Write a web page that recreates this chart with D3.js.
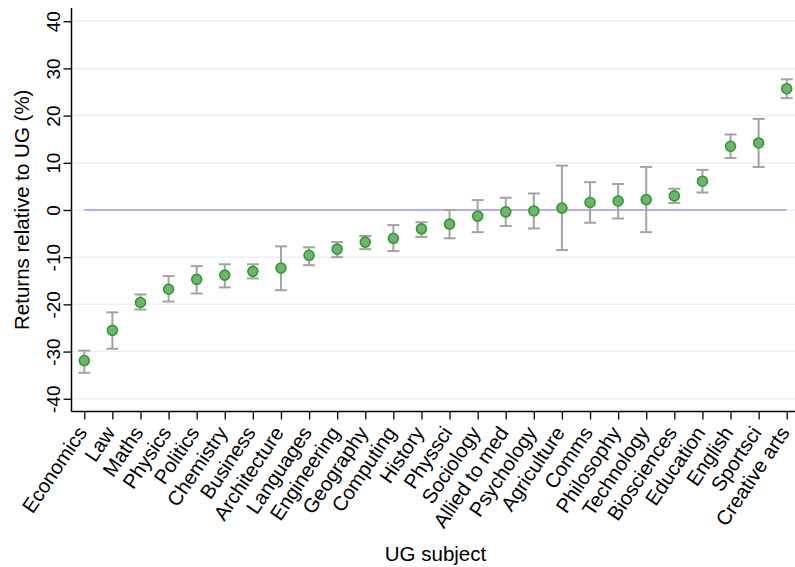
<!DOCTYPE html>
<html>
<head>
<meta charset="utf-8">
<script src="https://cdn.jsdelivr.net/npm/d3@7"></script>
<style>
  body { margin: 0; background: #fff; }
  text { font-family: "Liberation Sans", Arial, sans-serif; fill: #000; }
</style>
</head>
<body>
<div id="chart"></div>
<script>
// Chart data
var subjects = ["Economics", "Law", "Maths", "Physics", "Politics", "Chemistry", "Business",
    "Architecture", "Languages", "Engineering", "Geography", "Computing", "History", "Physsci",
    "Sociology", "Allied to med", "Psychology", "Agriculture", "Comms", "Philosophy",
    "Technology", "Biosciences", "Education", "English", "Sportsci", "Creative arts"];
var estimates = [-31.9, -25.5, -19.6, -16.8, -14.7, -13.8, -13.0, -12.3, -9.6, -8.3, -6.8, -6.0,
    -4.0, -3.0, -1.3, -0.4, -0.2, 0.4, 1.6, 1.9, 2.2, 3.0, 6.1, 13.5, 14.2, 25.7];
var lower = [-34.5, -29.4, -21.1, -19.4, -17.7, -16.4, -14.5, -17.0, -11.7, -10.0, -8.3, -8.7,
    -5.7, -6.0, -4.7, -3.4, -3.9, -8.5, -2.7, -1.8, -4.7, 1.5, 3.7, 11.0, 9.1, 23.7];
var upper = [-29.8, -21.7, -17.9, -14.0, -11.9, -11.5, -11.5, -7.7, -7.9, -6.8, -5.5, -3.2,
    -2.6, 0.0, 2.1, 2.6, 3.5, 9.4, 5.9, 5.5, 9.1, 4.5, 8.5, 16.0, 19.3, 27.7];
var yTicks = [-40, -30, -20, -10, 0, 10, 20, 30, 40];

// Dimensions (plot region edges)
var width = 795;
var height = 567;
var plotLeft = 71.5, plotRight = 799.5, plotTop = 8, plotBottom = 411.5;

var svg = d3.select("#chart")
    .append("svg")
    .attr("width", width)
    .attr("height", height);

// Scales
var x = d3.scalePoint()
    .domain(subjects)
    .range([plotLeft, plotRight])
    .padding(0.455);

var y = d3.scaleLinear()
    .domain([-42.7, 42.8])
    .range([plotBottom, plotTop]);

// Gridlines
svg.selectAll(".grid")
    .data(yTicks)
    .enter()
    .append("line")
    .attr("x1", plotLeft)
    .attr("x2", width)
    .attr("y1", function(d) { return y(d); })
    .attr("y2", function(d) { return y(d); })
    .attr("stroke", "#e9f0f3")
    .attr("stroke-width", 1.5);

// Zero reference line
svg.append("line")
    .attr("x1", x(subjects[0]))
    .attr("x2", x(subjects[subjects.length - 1]))
    .attr("y1", y(0))
    .attr("y2", y(0))
    .attr("stroke", "#b0b0f8")
    .attr("stroke-width", 2.2);

// Y axis (plain hyphen for negatives, as in the original)
var yAxis = svg.append("g")
    .attr("transform", "translate(" + plotLeft + ",0)")
    .call(d3.axisLeft(y).tickValues(yTicks).tickSize(8)
        .tickFormat(function(d) { return String(d); }));
yAxis.select(".domain").attr("d", "M0," + plotTop + "V" + plotBottom).attr("stroke", "#000").attr("stroke-width", 1.5);
yAxis.selectAll(".tick line").attr("stroke", "#000").attr("stroke-width", 1.3);
yAxis.selectAll(".tick text")
    .attr("font-size", 19)
    .attr("text-anchor", "middle")
    .attr("x", 0)
    .attr("y", 0)
    .attr("dy", 0)
    .attr("transform", "translate(-12,0) rotate(-90)");

// X axis
var xAxis = svg.append("g")
    .attr("transform", "translate(0," + plotBottom + ")")
    .call(d3.axisBottom(x).tickSize(8).tickSizeOuter(0));
xAxis.select(".domain").attr("d", "M" + plotLeft + ",0H" + plotRight).attr("stroke", "#000").attr("stroke-width", 1.5);
xAxis.selectAll(".tick line").attr("stroke", "#000").attr("stroke-width", 1.3);
xAxis.selectAll(".tick text")
    .attr("font-size", 20.2)
    .attr("text-anchor", "end")
    .attr("x", 0)
    .attr("y", 0)
    .attr("dy", "0.72em")
    .attr("transform", "translate(-9,13) rotate(-56)");

// Error bars
var bars = svg.selectAll(".ci")
    .data(subjects)
    .enter()
    .append("g")
    .attr("class", "ci")
    .attr("stroke", "#a3a3a3")
    .attr("stroke-width", 2);

bars.append("line")
    .attr("x1", function(d) { return x(d); })
    .attr("x2", function(d) { return x(d); })
    .attr("y1", function(d, i) { return y(lower[i]); })
    .attr("y2", function(d, i) { return y(upper[i]); });

bars.append("line")
    .attr("x1", function(d) { return x(d) - 6; })
    .attr("x2", function(d) { return x(d) + 6; })
    .attr("y1", function(d, i) { return y(lower[i]); })
    .attr("y2", function(d, i) { return y(lower[i]); });

bars.append("line")
    .attr("x1", function(d) { return x(d) - 6; })
    .attr("x2", function(d) { return x(d) + 6; })
    .attr("y1", function(d, i) { return y(upper[i]); })
    .attr("y2", function(d, i) { return y(upper[i]); });

// Point estimates
svg.selectAll(".pt")
    .data(subjects)
    .enter()
    .append("circle")
    .attr("class", "pt")
    .attr("cx", function(d) { return x(d); })
    .attr("cy", function(d, i) { return y(estimates[i]); })
    .attr("r", 5)
    .attr("fill", "#6db56d")
    .attr("stroke", "#2f9a2f")
    .attr("stroke-width", 1.6);

// Axis titles
svg.append("text")
    .attr("transform", "translate(29," + ((plotTop + plotBottom) / 2) + ") rotate(-90)")
    .attr("text-anchor", "middle")
    .attr("font-size", 20.5)
    .text("Returns relative to UG (%)");

svg.append("text")
    .attr("x", (plotLeft + plotRight) / 2)
    .attr("y", 561)
    .attr("text-anchor", "middle")
    .attr("font-size", 20.5)
    .text("UG subject");
</script>
</body>
</html>
